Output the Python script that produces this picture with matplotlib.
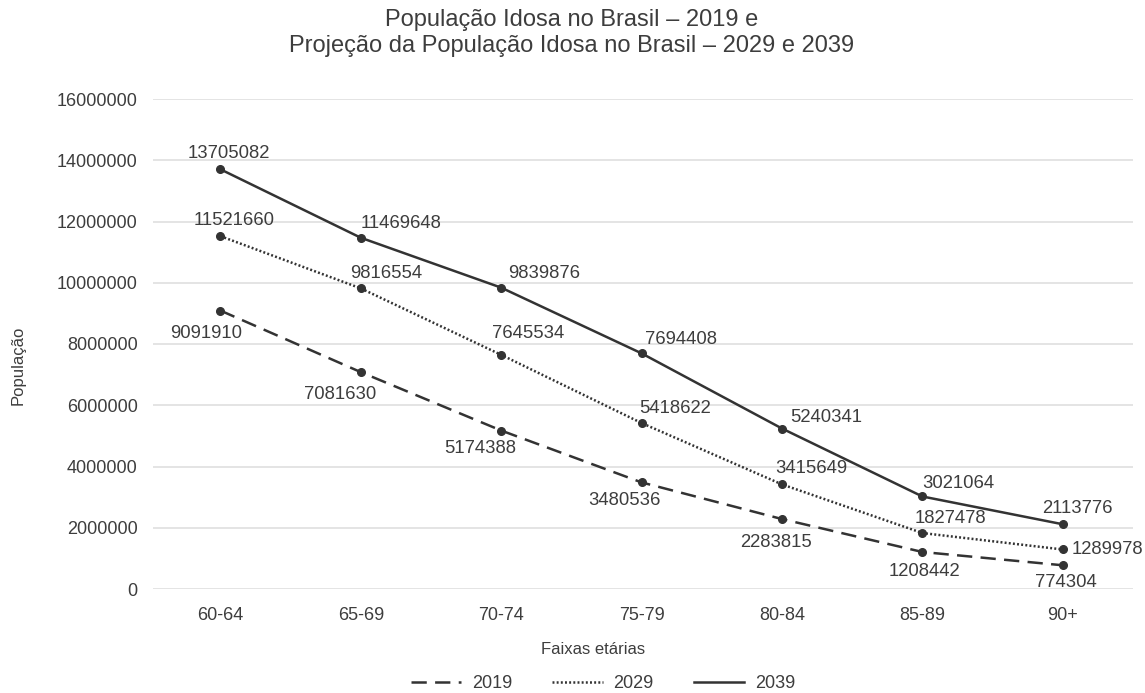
import matplotlib
matplotlib.use("Agg")
import matplotlib.pyplot as plt
from matplotlib.lines import Line2D

plt.rcParams['font.family'] = ['Liberation Sans', 'DejaVu Sans']
plt.rcParams['lines.scale_dashes'] = False

faixas = ["60-64", "65-69", "70-74", "75-79", "80-84", "85-89", "90+"]
pop_2019 = [9091910, 7081630, 5174388, 3480536, 2283815, 1208442, 774304]
pop_2029 = [11521660, 9816554, 7645534, 5418622, 3415649, 1827478, 1289978]
pop_2039 = [13705082, 11469648, 9839876, 7694408, 5240341, 3021064, 2113776]

# label offsets in pixels (dx, dy)
off_2019 = [(-14, -23), (-21, -22), (-21, -18), (-17, -18), (-6, -23), (2, -20), (3, -17)]
off_2029 = [(14, 16), (25, 15), (27, 21), (33, 15), (29, 16), (28, 15), (45, 0)]
off_2039 = [(8, 16), (40, 14), (43, 14), (39, 14), (44, 11), (36, 13), (15, 16)]

cor = "#333333"
texto = "#3d3d3d"

fig = plt.figure(figsize=(11.45, 6.93), dpi=100)
ax = fig.add_axes([153 / 1145, 1 - 589 / 693, 980 / 1145, 490 / 693])

x = list(range(len(faixas)))
series = [
    ("2019", pop_2019, off_2019, (0, (11, 6))),
    ("2029", pop_2029, off_2029, (0, (1.4, 1.6))),
    ("2039", pop_2039, off_2039, "-"),
]
handles = []
for nome, vals, offs, estilo in series:
    ax.plot(x, vals, color=cor, lw=1.8, linestyle=estilo, marker="o", markersize=5.5,
            clip_on=False)
    handles.append(Line2D([], [], color=cor, lw=1.8, linestyle=estilo, label=nome))
    for xi, v, (dx, dy) in zip(x, vals, offs):
        ax.annotate(str(v), (xi, v), xytext=(dx, dy), textcoords="offset pixels",
                    ha="center", va="center", fontsize=13.3, color=texto,
                    annotation_clip=False)

ax.set_xlim(-0.48, 6.5)
ax.set_ylim(0, 16000000)
ax.set_yticks(range(0, 16000001, 2000000))
ax.set_yticklabels([str(v) for v in range(0, 16000001, 2000000)])
ax.set_xticks(x)
ax.set_xticklabels(faixas)
ax.tick_params(length=0, labelsize=13, labelcolor=texto, pad=11)
ax.tick_params(axis="x", pad=13)
ax.grid(axis="y", color="#e4e4e4", lw=1.4)
ax.set_axisbelow(True)
for s in ax.spines.values():
    s.set_visible(False)

fig.text(572 / 1145, 1 - 33 / 693,
         "População Idosa no Brasil – 2019 e\nProjeção da População Idosa no Brasil – 2029 e 2039",
         ha="center", va="center", fontsize=17, color=texto, linespacing=1.2)
fig.text(18 / 1145, 1 - 365 / 693, "População", rotation=90, ha="center", va="center",
         fontsize=12, color=texto)
fig.text(593 / 1145, 1 - 650 / 693, "Faixas etárias", ha="center", va="center",
         fontsize=12, color=texto)

fig.legend(handles=handles, loc="center", bbox_to_anchor=(603 / 1145, 1 - 684 / 693),
           ncol=3, frameon=False, fontsize=13, handlelength=2.8, columnspacing=2.2,
           handletextpad=0.6, labelcolor=texto)

fig.savefig("out.png", dpi=100)
